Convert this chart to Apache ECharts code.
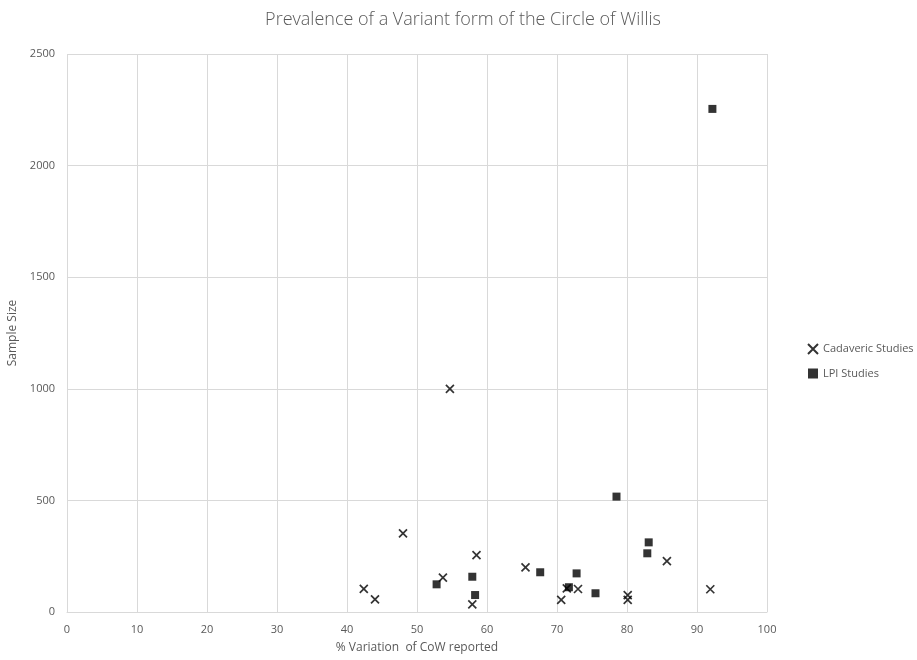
<!DOCTYPE html>
<html><head><meta charset="utf-8">
<script src="https://cdn.jsdelivr.net/npm/echarts@6/dist/echarts.min.js"></script>
<style>html,body{margin:0;padding:0;background:#fff}#c{width:917px;height:660px}</style>
</head><body><div id="c"></div>
<script>
const cadavericX = [42.4, 44.0, 48.0, 53.7, 54.7, 58.5, 57.9, 65.5, 70.6, 71.4, 73.0, 80.1, 80.1, 85.7, 91.9];
const cadavericY = [104, 57, 352, 154, 1000, 255, 34, 200, 54, 106, 103, 76, 54, 228, 102];
const lpiX = [52.8, 57.9, 58.3, 67.6, 71.7, 72.8, 75.5, 78.5, 82.9, 83.1, 92.2];
const lpiY = [124, 158, 76, 178, 111, 173, 84, 517, 263, 312, 2254];
const seriesNames = ['Cadaveric Studies', 'LPI Studies'];
const titleText = 'Prevalence of a Variant form of the Circle of Willis';
const xName = '% Variation  of CoW reported';
const yName = 'Sample Size';

const font = 'Open Sans, Liberation Sans, sans-serif';
const grey = '#595959';
const chart = echarts.init(document.getElementById('c'));
chart.setOption({
  animation: false,
  title: { text: titleText, left: 458, textAlign: 'center', top: 6,
    textStyle: { fontFamily: font, fontSize: 18, fontWeight: 300, color: grey } },
  grid: { left: 67, right: 150, top: 54, bottom: 48, containLabel: false, outerBoundsMode: 'none' },
  legend: { orient: 'vertical', left: 802, top: 338, itemGap: 13, itemWidth: 10, itemHeight: 10,
    textStyle: { fontFamily: font, fontSize: 11, color: grey },
    data: seriesNames },
  xAxis: { type: 'value', min: 0, max: 100, interval: 10,
    name: xName, nameLocation: 'middle', nameGap: 30,
    nameTextStyle: { fontFamily: font, fontSize: 12, color: grey },
    axisLine: { show: true, lineStyle: { color: '#d9d9d9' } }, axisTick: { show: false },
    axisLabel: { fontFamily: font, fontSize: 11, color: grey, margin: 12 },
    splitLine: { show: true, lineStyle: { color: '#d9d9d9', width: 1 } } },
  yAxis: { type: 'value', min: 0, max: 2500, interval: 500,
    name: yName, nameLocation: 'middle', nameGap: 46,
    nameTextStyle: { fontFamily: font, fontSize: 12, color: grey },
    axisLine: { show: false }, axisTick: { show: false },
    axisLabel: { fontFamily: font, fontSize: 11, color: grey, margin: 12, formatter: v => String(v) },
    splitLine: { show: true, lineStyle: { color: '#d9d9d9', width: 1 } } },
  series: [
    { name: seriesNames[0], type: 'scatter',
      symbol: 'path://M0,0L10,10M10,0L0,10', symbolSize: 8,
      itemStyle: { color: 'rgba(0,0,0,0)', borderColor: '#000', borderWidth: 1.7 },
      data: cadavericX.map((x, i) => [x, cadavericY[i]]) },
    { name: seriesNames[1], type: 'scatter', symbol: 'rect', symbolSize: 8,
      itemStyle: { color: '#000' },
      data: lpiX.map((x, i) => [x, lpiY[i]]) }
  ]
});
</script></body></html>
